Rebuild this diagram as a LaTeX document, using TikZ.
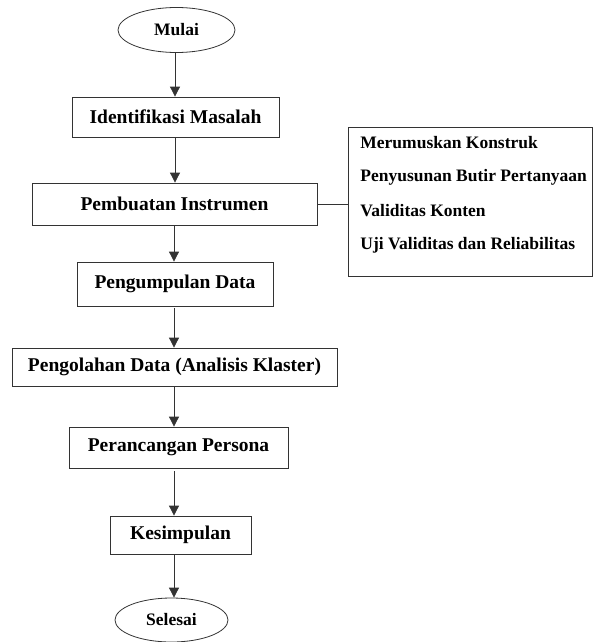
\documentclass[tikz,border=0pt]{standalone}
\usepackage{fontspec}
\setmainfont{Liberation Serif}
\usetikzlibrary{shapes.geometric,arrows.meta}
\begin{document}
\begin{tikzpicture}[x=1pt,y=-1pt,
  line width=0.8pt,
  flowbox/.style={draw=black!80, rectangle, inner sep=0pt, font=\fontsize{19.5}{23}\selectfont\bfseries},
  termnode/.style={draw=black!80, ellipse, inner sep=0pt, font=\fontsize{17.5}{21}\selectfont\bfseries},
  subitem/.style={anchor=west, inner sep=0pt, font=\fontsize{17.5}{21}\selectfont\bfseries},
  arr/.style={draw=black!80, -{Triangle[length=10pt,width=10pt]}}]
\useasboundingbox (0,0) rectangle (593,642);
\node[termnode, minimum width=117pt, minimum height=45pt] (mulai) at (176.5,30) {Mulai};
\node[flowbox, minimum width=207pt, minimum height=40pt] (ident) at (175.5,117) {Identifikasi Masalah};
\node[flowbox, minimum width=285pt, minimum height=42pt] (pemb) at (174.5,204) {Pembuatan Instrumen};
\node[flowbox, minimum width=196pt, minimum height=44pt] (kumpul) at (175,284) {Pengumpulan Data};
\node[flowbox, minimum width=325pt, minimum height=38pt] (olah) at (174.5,367) {Pengolahan Data (Analisis Klaster)};
\node[flowbox, minimum width=219pt, minimum height=41pt] (rancang) at (178.5,447.5) {Perancangan Persona};
\node[flowbox, minimum width=141pt, minimum height=38pt] (simpul) at (180.5,535) {Kesimpulan};
\node[termnode, minimum width=113pt, minimum height=44pt] (selesai) at (171.5,620) {Selesai};
\node[draw=black!80, rectangle, inner sep=0pt, minimum width=244pt, minimum height=149pt] (rb) at (470.5,201.5) {};
\node[subitem] (r1) at (360,143) {Merumuskan Konstruk};
\node[subitem] (r2) at (360,177) {Penyusunan Butir Pertanyaan};
\node[subitem] (r3) at (360,211) {Validitas Konten};
\node[subitem] (r4) at (360,245) {Uji Validitas dan Reliabilitas};
\coordinate (ax) at (175,0);
\coordinate (ax2) at (174,0);
\draw[arr] (mulai.south -| ax) -- (ident.north -| ax);
\draw[arr] (ident.south -| ax) -- (pemb.north -| ax);
\draw[arr] (pemb.south -| ax2) -- (kumpul.north -| ax2);
\draw[arr, shorten <=2pt] (kumpul.south -| ax2) -- (olah.north -| ax2);
\draw[arr] (olah.south -| ax2) -- (rancang.north -| ax2);
\draw[arr, shorten <=3pt] (rancang.south -| ax2) -- (simpul.north -| ax2);
\draw[arr] (simpul.south -| ax2) -- (selesai.north -| ax2);
\draw[draw=black!80] (pemb.east) -- (pemb.east -| rb.west);
\end{tikzpicture}
\end{document}
